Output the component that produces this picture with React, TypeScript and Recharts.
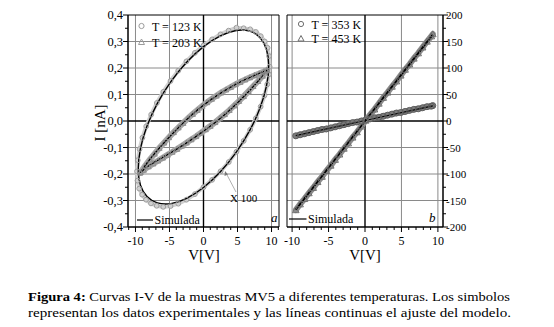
import React from 'react';
import {
  ComposedChart, Line, Scatter, XAxis, YAxis, CartesianGrid, ReferenceLine, ReferenceArea
} from 'recharts';

// ---- panel a: T = 123 K (circles) and T = 203 K (triangles), I in nA ----
const exp123 = [
  [9.72, 0.205], [9.64, 0.245], [9.42, 0.276], [9.0, 0.3], [8.42, 0.32], [7.7, 0.336], [6.86, 0.346],
  [5.9, 0.35], [4.85, 0.352], [3.7, 0.341], [2.5, 0.327], [1.27, 0.308], [0, 0.285], [-1.27, 0.257],
  [-2.51, 0.225], [-3.71, 0.19], [-4.85, 0.151], [-5.91, 0.11], [-6.86, 0.068], [-7.69, 0.024],
  [-8.42, -0.02], [-8.98, -0.063], [-9.4, -0.106], [-9.66, -0.148], [-9.78, -0.19], [-9.7, -0.225],
  [-9.45, -0.255], [-9.02, -0.278], [-8.45, -0.297], [-7.72, -0.311], [-6.88, -0.32], [-5.92, -0.324],
  [-4.85, -0.321], [-3.71, -0.312], [-2.51, -0.297], [-1.27, -0.276], [0, -0.25], [1.27, -0.222],
  [2.51, -0.19], [3.71, -0.155], [4.85, -0.116], [5.91, -0.075], [6.86, -0.033], [7.69, 0.01],
  [8.4, 0.054], [8.96, 0.096], [9.37, 0.138], [9.62, 0.176],
];
const sim123 = [
  [9.7, 0.21], [9.37, 0.273], [8.4, 0.318], [6.86, 0.343], [4.85, 0.3455], [2.51, 0.325], [0, 0.284],
  [-2.51, 0.224], [-4.85, 0.15], [-6.86, 0.067], [-8.4, -0.019], [-9.37, -0.104], [-9.7, -0.185],
  [-9.37, -0.245], [-8.4, -0.288], [-6.86, -0.313], [-4.85, -0.3155], [-2.51, -0.295], [0, -0.254],
  [2.51, -0.194], [4.85, -0.12], [6.86, -0.037], [8.4, 0.049], [9.37, 0.134],
];
const exp203Up = [
  [-9.3, -0.195], [-8.6, -0.17], [-7.9, -0.146], [-7.2, -0.124], [-6.5, -0.102], [-5.8, -0.082],
  [-5.1, -0.062], [-4.4, -0.043], [-3.7, -0.025], [-3.0, -0.008], [-2.3, 0.01], [-1.6, 0.026],
  [-0.9, 0.041], [-0.2, 0.056], [0.5, 0.07], [1.2, 0.083], [1.9, 0.095], [2.6, 0.107], [3.3, 0.118],
  [4.0, 0.128], [4.7, 0.138], [5.4, 0.147], [6.1, 0.156], [6.8, 0.164], [7.5, 0.172], [8.2, 0.179],
  [8.9, 0.187], [9.3, 0.192],
];
const exp203Down = [
  [9.3, 0.19], [8.7, 0.17], [8.0, 0.15], [7.3, 0.131], [6.6, 0.112], [5.9, 0.093], [5.2, 0.075],
  [4.5, 0.058], [3.8, 0.041], [3.1, 0.025], [2.4, 0.01], [1.7, -0.005], [1.0, -0.019], [0.3, -0.032],
  [-0.4, -0.045], [-1.1, -0.058], [-1.8, -0.07], [-2.5, -0.082], [-3.2, -0.094], [-3.9, -0.106],
  [-4.6, -0.117], [-5.3, -0.128], [-6.0, -0.139], [-6.7, -0.15], [-7.4, -0.161], [-8.1, -0.172],
  [-8.8, -0.185], [-9.3, -0.195],
];
const sim203Up = [
  [-9.3, -0.195], [-8, -0.148], [-6, -0.088], [-4, -0.033], [-2, 0.017], [0, 0.06], [2, 0.097],
  [4, 0.128], [6, 0.155], [8, 0.178], [9.3, 0.192],
];
const sim203Down = [
  [9.3, 0.192], [8, 0.15], [6, 0.094], [4, 0.044], [2, 0.0], [0, -0.038], [-2, -0.074],
  [-4, -0.107], [-6, -0.137], [-8, -0.168], [-9.3, -0.195],
];

// ---- panel b: T = 353 K (circles) and T = 453 K (triangles) ----
const exp353 = [
  [-9.5, -28], [-8.9, -26], [-8.3, -24], [-7.7, -22], [-7.1, -20], [-6.5, -18], [-5.9, -16], [-5.3, -15],
  [-4.7, -13], [-4.1, -11], [-3.5, -9], [-2.9, -7], [-2.3, -5], [-1.7, -3], [-1.1, -2], [-0.5, 0],
  [0.1, 2], [0.7, 4], [1.3, 6], [1.9, 7], [2.5, 9], [3.1, 11], [3.7, 13], [4.3, 15], [4.9, 16],
  [5.5, 18], [6.1, 20], [6.7, 22], [7.3, 23], [7.9, 25], [8.5, 27], [9.1, 28], [9.3, 29],
];
const exp453 = [
  [-9.5, -168], [-8.9, -157], [-8.3, -147], [-7.7, -136], [-7.1, -126], [-6.5, -115], [-5.9, -105],
  [-5.3, -94], [-4.7, -84], [-4.1, -73], [-3.5, -63], [-2.9, -52], [-2.3, -42], [-1.7, -31], [-1.1, -21],
  [-0.5, -10], [0.1, 1], [0.7, 12], [1.3, 22], [1.9, 33], [2.5, 44], [3.1, 54], [3.7, 65], [4.3, 75],
  [4.9, 86], [5.5, 97], [6.1, 107], [6.7, 118], [7.3, 128], [7.9, 139], [8.5, 150], [9.1, 160], [9.3, 164],
];
const sim353 = [[-9.5, -27.5], [0, 1], [9.3, 28.5]];
const sim453 = [[-9.5, -167], [0, 0], [9.3, 163]];

// ticks
const xTicksA = [-11, -10, -9, -8, -7, -6, -5, -4, -3, -2, -1, 0, 1, 2, 3, 4, 5, 6, 7, 8, 9, 10, 11];
const xTicksB = [-10, -9, -8, -7, -6, -5, -4, -3, -2, -1, 0, 1, 2, 3, 4, 5, 6, 7, 8, 9, 10];
const yTicksA = [-0.4, -0.35, -0.3, -0.25, -0.2, -0.15, -0.1, -0.05, 0, 0.05, 0.1, 0.15, 0.2, 0.25, 0.3, 0.35, 0.4];
const yTicksB = [-200, -175, -150, -125, -100, -75, -50, -25, 0, 25, 50, 75, 100, 125, 150, 175, 200];
const gridXA = [-10, -5, 5, 10];
const gridXB = [-10, -5, 5, 10];
const gridYA = [-0.3, -0.2, -0.1, 0.1, 0.2, 0.3];
const gridYB = [-150, -100, -50, 50, 100, 150];

const pts = (a: number[][]) => a.map(([x, y]) => ({ x, y }));
const SERIF = "'Liberation Serif', 'Times New Roman', serif";

const XTick = (props: any) => {
  const { x, y, payload } = props;
  const v = payload.value;
  const major = v % 5 === 0;
  return (
    <g>
      <line x1={x} y1={y} x2={x} y2={y + (major ? 5 : 3)} stroke="#000" />
      {major && (
        <text x={x} y={y + 18} textAnchor="middle" fontSize={12} fontFamily={SERIF} fill="#000">{v}</text>
      )}
    </g>
  );
};

const YTickA = (props: any) => {
  const { x, y, payload } = props;
  const v = payload.value;
  const major = Math.round(Math.abs(v) * 100) % 10 === 0;
  return (
    <g>
      <line x1={x} y1={y} x2={x - (major ? 5 : 3)} y2={y} stroke="#000" />
      {major && (
        <text x={x - 5} y={y + 4} textAnchor="end" fontSize={12.5} fontFamily={SERIF} fill="#000">
          {v.toFixed(1).replace('.', ',')}
        </text>
      )}
    </g>
  );
};

const YTickB = (props: any) => {
  const { x, y, payload } = props;
  const v = payload.value;
  const major = v % 50 === 0;
  return (
    <g>
      <line x1={x} y1={y} x2={x + (major ? 5 : 3)} y2={y} stroke="#000" />
      {major && (
        <text x={x + 3} y={y + 4} textAnchor="start" fontSize={11} fontFamily={SERIF} fill="#000">{v}</text>
      )}
    </g>
  );
};

const Circ = (color: string, r: number) => (p: any) => (
  <circle cx={p.cx} cy={p.cy} r={r} fill="none" stroke={color} strokeWidth={1} />
);
const Tri = (color: string, s: number) => (p: any) => (
  <polygon
    points={`${p.cx},${p.cy - s} ${p.cx - s},${p.cy + s * 0.8} ${p.cx + s},${p.cy + s * 0.8}`}
    fill="none" stroke={color} strokeWidth={1}
  />
);

const band = (data: number[][], color: string, w: number, type: any = 'linear') => (
  <Line data={pts(data)} dataKey="y" type={type} stroke={color} strokeWidth={w} strokeLinecap="round"
    dot={false} activeDot={false} isAnimationActive={false} />
);

const App = () => {
  return (
    <div style={{ position: 'absolute', left: 0, top: 0, width: 554, height: 327, background: '#fff', overflow: 'hidden' }}>
      <div style={{ position: 'absolute', left: 0, top: 0 }}>
        <ComposedChart width={290} height={270} margin={{ top: 15, right: 11, bottom: 0, left: 88 }}>
          <CartesianGrid stroke="#8a8a8a" strokeWidth={1} horizontalValues={gridYA} verticalValues={gridXA} />
          <XAxis type="number" dataKey="x" domain={[-11.1, 11.1]} ticks={xTicksA} interval={0} height={43}
            allowDataOverflow tickSize={0} tickMargin={0} tickLine={false} tick={<XTick />} axisLine={{ stroke: '#000' }} />
          <YAxis type="number" dataKey="y" domain={[-0.4, 0.4]} ticks={yTicksA} interval={0} width={40}
            allowDataOverflow tickSize={0} tickMargin={0} tickLine={false} tick={<YTickA />} axisLine={{ stroke: '#000' }} />
          <ReferenceLine x={0} stroke="#000" strokeWidth={1.4} />
          <ReferenceLine y={0} stroke="#000" strokeWidth={1.4} />
          <ReferenceArea x1={-11.1} x2={11.1} y1={-0.4} y2={0.4} fill="none" stroke="#000" strokeWidth={1} />
          {band(exp123, '#d0d0d0', 4, 'linearClosed')}
          {band(exp203Up, '#a8a8a8', 6)}
          {band(exp203Down, '#a8a8a8', 6)}
          <Scatter data={pts(exp123)} shape={Circ('#9c9c9c', 2.4)} isAnimationActive={false} />
          <Scatter data={pts(exp203Up)} shape={Tri('#8c8c8c', 2.8)} isAnimationActive={false} />
          <Scatter data={pts(exp203Down)} shape={Tri('#8c8c8c', 2.8)} isAnimationActive={false} />
          <Line data={pts(sim123)} dataKey="y" type="basisClosed" stroke="#000" strokeWidth={1.4} dot={false} activeDot={false} isAnimationActive={false} />
          <Line data={pts(sim203Up)} dataKey="y" type="natural" stroke="#000" strokeWidth={1.4} dot={false} activeDot={false} isAnimationActive={false} />
          <Line data={pts(sim203Down)} dataKey="y" type="natural" stroke="#000" strokeWidth={1.4} dot={false} activeDot={false} isAnimationActive={false} />
        </ComposedChart>
      </div>
      <div style={{ position: 'absolute', left: 270, top: 0 }}>
        <ComposedChart width={230} height={270} margin={{ top: 15, right: 17, bottom: 0, left: 17 }}>
          <CartesianGrid stroke="#8a8a8a" strokeWidth={1} horizontalValues={gridYB} verticalValues={gridXB} />
          <XAxis type="number" dataKey="x" domain={[-10.7, 10.7]} ticks={xTicksB} interval={0} height={43}
            allowDataOverflow tickSize={0} tickMargin={0} tickLine={false} tick={<XTick />} axisLine={{ stroke: '#000' }} />
          <YAxis type="number" dataKey="y" orientation="right" domain={[-200, 200]} ticks={yTicksB} interval={0} width={40}
            allowDataOverflow tickSize={0} tickMargin={0} tickLine={false} tick={<YTickB />} axisLine={{ stroke: '#000' }} />
          <ReferenceLine x={0} stroke="#000" strokeWidth={1.4} />
          <ReferenceLine y={0} stroke="#000" strokeWidth={1.4} />
          <ReferenceArea x1={-10.7} x2={10.7} y1={-200} y2={200} fill="none" stroke="#000" strokeWidth={1} />
          {band(exp353, '#7c7c7c', 6)}
          {band(exp453, '#8c8c8c', 6)}
          <Scatter data={pts(exp353)} shape={Circ('#5e5e5e', 3)} isAnimationActive={false} />
          <Scatter data={pts(exp453)} shape={Tri('#6e6e6e', 3.3)} isAnimationActive={false} />
          <Line data={pts(sim353)} dataKey="y" type="linear" stroke="#000" strokeWidth={1.2} dot={false} activeDot={false} isAnimationActive={false} />
          <Line data={pts(sim453)} dataKey="y" type="linear" stroke="#000" strokeWidth={2} dot={false} activeDot={false} isAnimationActive={false} />
        </ComposedChart>
      </div>
      <svg width={554} height={327} style={{ position: 'absolute', left: 0, top: 0, pointerEvents: 'none' }} fontFamily={SERIF}>
        {/* panel a legend */}
        <circle cx={141.5} cy={26} r={2.6} fill="none" stroke="#9c9c9c" />
        <text x={152} y={30.5} fontSize={12}>T = 123 K</text>
        <polygon points="141.5,39 138.5,44.5 144.5,44.5" fill="none" stroke="#9c9c9c" />
        <text x={152} y={46.5} fontSize={12}>T = 203 K</text>
        <line x1={137} y1={220} x2={153} y2={220} stroke="#000" strokeWidth={1.2} />
        <text x={154.5} y={224} fontSize={12}>Simulada</text>
        <text x={271} y={222} fontSize={13} fontStyle="italic">a</text>
        <line x1={236} y1={192} x2={226} y2={173} stroke="#999" strokeWidth={0.8} />
        <polygon points="225,171 224.5,176 228,174.5" fill="#777" />
        <text x={230} y={202} fontSize={11}>X 100</text>
        {/* panel b legend */}
        <circle cx={301} cy={24} r={2.6} fill="none" stroke="#6e6e6e" />
        <text x={311.5} y={28.5} fontSize={12}>T = 353 K</text>
        <polygon points="301,35.5 298,41 304,41" fill="none" stroke="#6e6e6e" />
        <text x={311.5} y={42.5} fontSize={12}>T = 453 K</text>
        <line x1={289} y1={219} x2={306.5} y2={219} stroke="#000" strokeWidth={1.2} />
        <text x={308} y={223} fontSize={12}>Simulada</text>
        <text x={429} y={222} fontSize={13} fontStyle="italic">b</text>
        {/* axis titles */}
        <text x={0} y={0} fontSize={15} textAnchor="middle" transform="translate(105,123) rotate(-90)">I [nA]</text>
        <text x={204} y={260} fontSize={15} textAnchor="middle">V[V]</text>
        <text x={365} y={260} fontSize={15} textAnchor="middle">V[V]</text>
        {/* caption */}
        <text x={28} y={301} fontSize={13} textLength={482} lengthAdjust="spacingAndGlyphs">
          <tspan fontWeight="bold">Figura 4:</tspan> Curvas I-V de la muestras MV5 a diferentes temperaturas. Los simbolos
        </text>
        <text x={28} y={317} fontSize={13} textLength={483} lengthAdjust="spacingAndGlyphs">
          representan los datos experimentales y las líneas continuas el ajuste del modelo.
        </text>
      </svg>
    </div>
  );
};

export default App;
